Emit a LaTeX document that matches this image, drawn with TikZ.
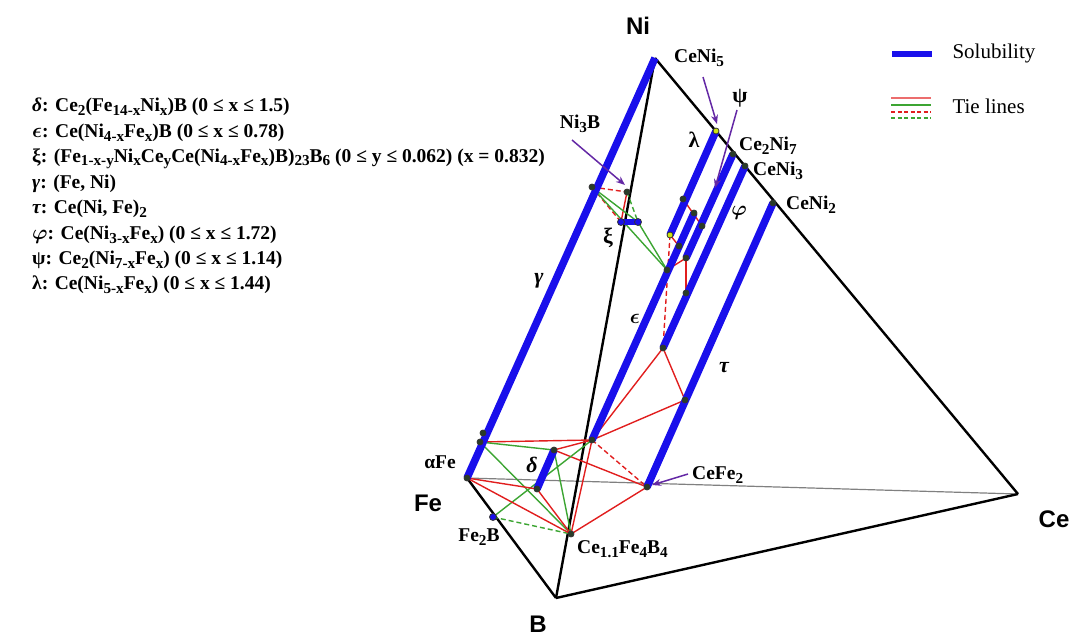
\documentclass[tikz,border=0pt]{standalone}
\usepackage{amsmath}
\usepackage{fontspec}
\setmainfont{Liberation Serif}
\newfontfamily\hv{Liberation Sans}
\usetikzlibrary{arrows.meta}
\definecolor{solblue}{RGB}{25,15,235}
\definecolor{tred}{RGB}{225,30,30}
\definecolor{tgreen}{RGB}{60,165,50}
\definecolor{arrpurple}{RGB}{100,40,165}
\definecolor{dotfill}{RGB}{40,60,40}
\newcommand\sbs[1]{\raisebox{-0.4ex}{\scalebox{0.78}{#1}}}
\tikzset{
  edge/.style={line width=2.4pt,black},
  faint/.style={line width=1.2pt,gray},
  sol/.style={line width=7.5pt,solblue},
  tr/.style={line width=1.4pt,tred},
  tg/.style={line width=1.4pt,tgreen},
  trd/.style={tr,dash pattern=on 5pt off 3pt},
  tgd/.style={tg,dash pattern=on 5pt off 3pt},
  pt/.style={circle,draw=black!80,fill=dotfill,inner sep=0pt,minimum size=6pt,line width=0.8pt},
  ptb/.style={pt,fill=solblue},
  pty/.style={pt,fill=yellow!80!green},
  pta/.style={draw=arrpurple,line width=1.5pt,-{Stealth[length=9pt,width=7pt]}},
  lab/.style={font=\bfseries\fontsize{19.5}{21}\selectfont,inner sep=1pt},
  glab/.style={font=\bfseries\fontsize{22}{24}\selectfont,inner sep=1pt},
  vlab/.style={font=\hv\bfseries\fontsize{24}{26}\selectfont,inner sep=1pt},
  leg/.style={font=\bfseries\fontsize{19.5}{22}\selectfont,anchor=west,inner sep=0pt}
}
\begin{document}
\begin{tikzpicture}[x=1pt,y=-1pt]
\useasboundingbox (0,0) rectangle (1073,640);
% vertices
\coordinate (Ni) at (655,58);
\coordinate (Fe) at (467,478);
\coordinate (Ce) at (1018,494);
\coordinate (B) at (556,598);
% frame
\draw[faint] (Fe) -- (Ce);
\draw[edge] (Ni) -- (Ce);
\draw[edge] (Ni) -- (B);
\draw[edge] (Fe) -- (B);
\draw[edge] (B) -- (Ce);
% solubility line ends
\coordinate (CeNi5) at (716,131);
\coordinate (lamE) at (670,235);
\coordinate (Ce2Ni7) at (733,154);
\coordinate (psiE) at (686,258);
\coordinate (epsT) at (694,213);
\coordinate (epsB) at (592,440);
\coordinate (CeNi3) at (745,166);
\coordinate (phiE) at (663,348);
\coordinate (CeNi2) at (773,203);
\coordinate (CeFe2) at (647,487);
\coordinate (delT) at (554,450);
\coordinate (delB) at (537,489);
\coordinate (xiL) at (621,222);
\coordinate (xiR) at (638,222);
% other points
\coordinate (Ni3B) at (627,192);
\coordinate (gx) at (592,187);
\coordinate (J) at (667,270);
\coordinate (tauM) at (685,400);
\coordinate (a1) at (483,433);
\coordinate (a2) at (480,442);
\coordinate (Fe2B) at (493,517);
\coordinate (CFB) at (571,534);
\coordinate (lamM) at (683,199);
\coordinate (psiM) at (702,226);
\coordinate (k1) at (679,246);
\coordinate (phiM) at (686,293);
% tie lines (behind blue)
\draw[trd] (gx) -- (Ni3B);
\draw[trd] (gx) -- (xiL);
\draw[tr] (Ni3B) -- (xiL);
\draw[tg] (gx) -- (xiR);
\draw[tgd] (Ni3B) -- (xiR);
\draw[tg] (gx) -- (J);
\draw[tg] (xiR) -- (J);
\draw[trd] (lamE) -- (phiE);
\draw[tr] (lamE) -- (k1);
\draw[tr] (k1) -- (J);
\draw[tr] (J) -- (psiE);
\draw[tr] (psiE) -- (phiM);
\draw[tr] (lamM) -- (psiM);
\draw[tr] (epsB) -- (phiE);
\draw[tr] (epsB) -- (tauM);
\draw[tr] (phiE) -- (tauM);
\draw[trd] (epsB) -- (CeFe2);
\draw[tr] (a2) -- (epsB);
\draw[tg] (a2) -- (delT);
\draw[tg] (a2) -- (CFB);
\draw[tr] (delT) -- (epsB);
\draw[tr] (delT) -- (CeFe2);
\draw[tg] (delT) -- (CFB);
\draw[tr] (CFB) -- (CeFe2);
\draw[tr] (CFB) -- (epsB);
\draw[tg] (Fe2B) -- (epsB);
\draw[tgd] (Fe2B) -- (CFB);
\draw[tr] (Fe) -- (CFB);
\draw[tr] (Fe) -- (delB);
\draw[tr] (delB) -- (CFB);
% solubility lines
\draw[sol] (Ni) -- (Fe);
\draw[sol] (CeNi5) -- (lamE);
\draw[sol] (Ce2Ni7) -- (psiE);
\draw[sol] (epsT) -- (epsB);
\draw[sol] (CeNi3) -- (phiE);
\draw[sol] (CeNi2) -- (CeFe2);
\draw[sol] (delT) -- (delB);
\draw[sol,line width=6pt] (xiL) -- (xiR);
% dots
\foreach \p in {gx,Ni3B,J,phiE,tauM,a1,a2,Fe,delT,delB,CFB,epsB,CeFe2,lamM,psiM,psiE,phiM,CeNi3,CeNi2,Ce2Ni7,epsT,k1}
  \node[pt,minimum size=6pt] at (\p) {};
\node[pty,minimum size=6pt] at (lamE) {};
\node[pty,minimum size=6pt] at (CeNi5) {};
\node[ptb,minimum size=7pt] (xl) at (xiL) {};
\node[ptb,minimum size=7pt] (xr) at (xiR) {};
\node[ptb,minimum size=7pt] at (Fe2B) {};
% vertex labels
\node[vlab] (lNi) at (638,26) {Ni};
\node[vlab] (lFe) at (428,503) {Fe};
\node[vlab] (lCe) at (1054,519) {Ce};
\node[vlab] (lB) at (538,624) {B};
% phase labels
\node[lab,anchor=west] (lCeNi5) at (673,58) {CeNi\sbs{5}};
\node[glab] (lpsi) at (740,98) {ψ};
\node[glab] (llam) at (694,140) {λ};
\node[lab,anchor=west] (lCe2Ni7) at (738,146) {Ce\sbs{2}Ni\sbs{7}};
\node[lab,anchor=west] (lCeNi3) at (752,171) {CeNi\sbs{3}};
\node[lab,anchor=west] (lCeNi2) at (785,205) {CeNi\sbs{2}};
\node[glab] (lphi) at (739,213) {$\boldsymbol{\varphi}$};
\node[glab] (lxi) at (608,238) {ξ};
\node[lab] (lNi3B) at (580,124) {Ni\sbs{3}B};
\node[glab] (lgam) at (539,281) {\itshape γ};
\node[glab] (leps) at (635,319) {$\boldsymbol{\epsilon}$};
\node[glab] (ltau) at (724,368) {\itshape τ};
\node[lab] (laFe) at (440,462) {αFe};
\node[glab] (ldel) at (532,465) {\itshape δ};
\node[lab,anchor=west] (lCeFe2) at (691,475) {CeFe\sbs{2}};
\node[lab] (lFe2B) at (479,537) {Fe\sbs{2}B};
\node[lab,anchor=west] (lCFB) at (576,549) {Ce\sbs{1.1}Fe\sbs{4}B\sbs{4}};
% purple arrows
\coordinate (n3a) at (572,140);
\coordinate (c5a) at (703,77);
\coordinate (psa) at (737,110);
\coordinate (cfa) at (688,474);
\draw[pta] (n3a) -- (625,185);
\draw[pta] (c5a) -- (717,124);
\draw[pta] (psa) -- (715,188);
\draw[pta] (cfa) -- (652,485);
% legend left
\node[leg] (t1) at (32,107) {\itshape δ\upshape: Ce\sbs{2}(Fe\sbs{14-x}Ni\sbs{x})B (0 ≤ x ≤ 1.5)};
\node[leg] (t2) at (32,133) {$\boldsymbol{\epsilon}$: Ce(Ni\sbs{4-x}Fe\sbs{x})B (0 ≤ x ≤ 0.78)};
\node[leg] (t3) at (32,159) {ξ: (Fe\sbs{1-x-y}Ni\sbs{x}Ce\sbs{y}Ce(Ni\sbs{4-x}Fe\sbs{x})B)\sbs{23}B\sbs{6} (0 ≤ y ≤ 0.062) (x = 0.832)};
\node[leg] (t4) at (32,184) {\itshape γ\upshape: (Fe, Ni)};
\node[leg] (t5) at (32,209) {\itshape τ\upshape: Ce(Ni, Fe)\sbs{2}};
\node[leg] (t6) at (32,235) {$\boldsymbol{\varphi}$: Ce(Ni\sbs{3-x}Fe\sbs{x}) (0 ≤ x ≤ 1.72)};
\node[leg] (t7) at (32,260) {ψ: Ce\sbs{2}(Ni\sbs{7-x}Fe\sbs{x}) (0 ≤ x ≤ 1.14)};
\node[leg] (t8) at (32,285) {λ: Ce(Ni\sbs{5-x}Fe\sbs{x}) (0 ≤ x ≤ 1.44)};
% legend right
\coordinate (s1) at (892,54); \coordinate (s2) at (932,54);
\draw[solblue,line width=6.5pt] (s1) -- (s2);
\node[anchor=west,font=\fontsize{21}{23}\selectfont] (lsol) at (949,53) {Solubility};
\coordinate (r1) at (891,98); \coordinate (r2) at (931,98);
\coordinate (g1) at (891,105); \coordinate (g2) at (931,105);
\coordinate (rd1) at (891,112); \coordinate (rd2) at (931,112);
\coordinate (gd1) at (891,118); \coordinate (gd2) at (931,118);
\draw[tred!65,line width=1.5pt] (r1) -- (r2);
\draw[tgreen,line width=1.5pt] (g1) -- (g2);
\draw[tred,line width=1.5pt,dash pattern=on 4pt off 2.5pt] (rd1) -- (rd2);
\draw[tgreen,line width=1.5pt,dash pattern=on 4pt off 2.5pt] (gd1) -- (gd2);
\node[anchor=west,font=\fontsize{21}{23}\selectfont] (ltie) at (949,106) {Tie lines};
\end{tikzpicture}
\end{document}
